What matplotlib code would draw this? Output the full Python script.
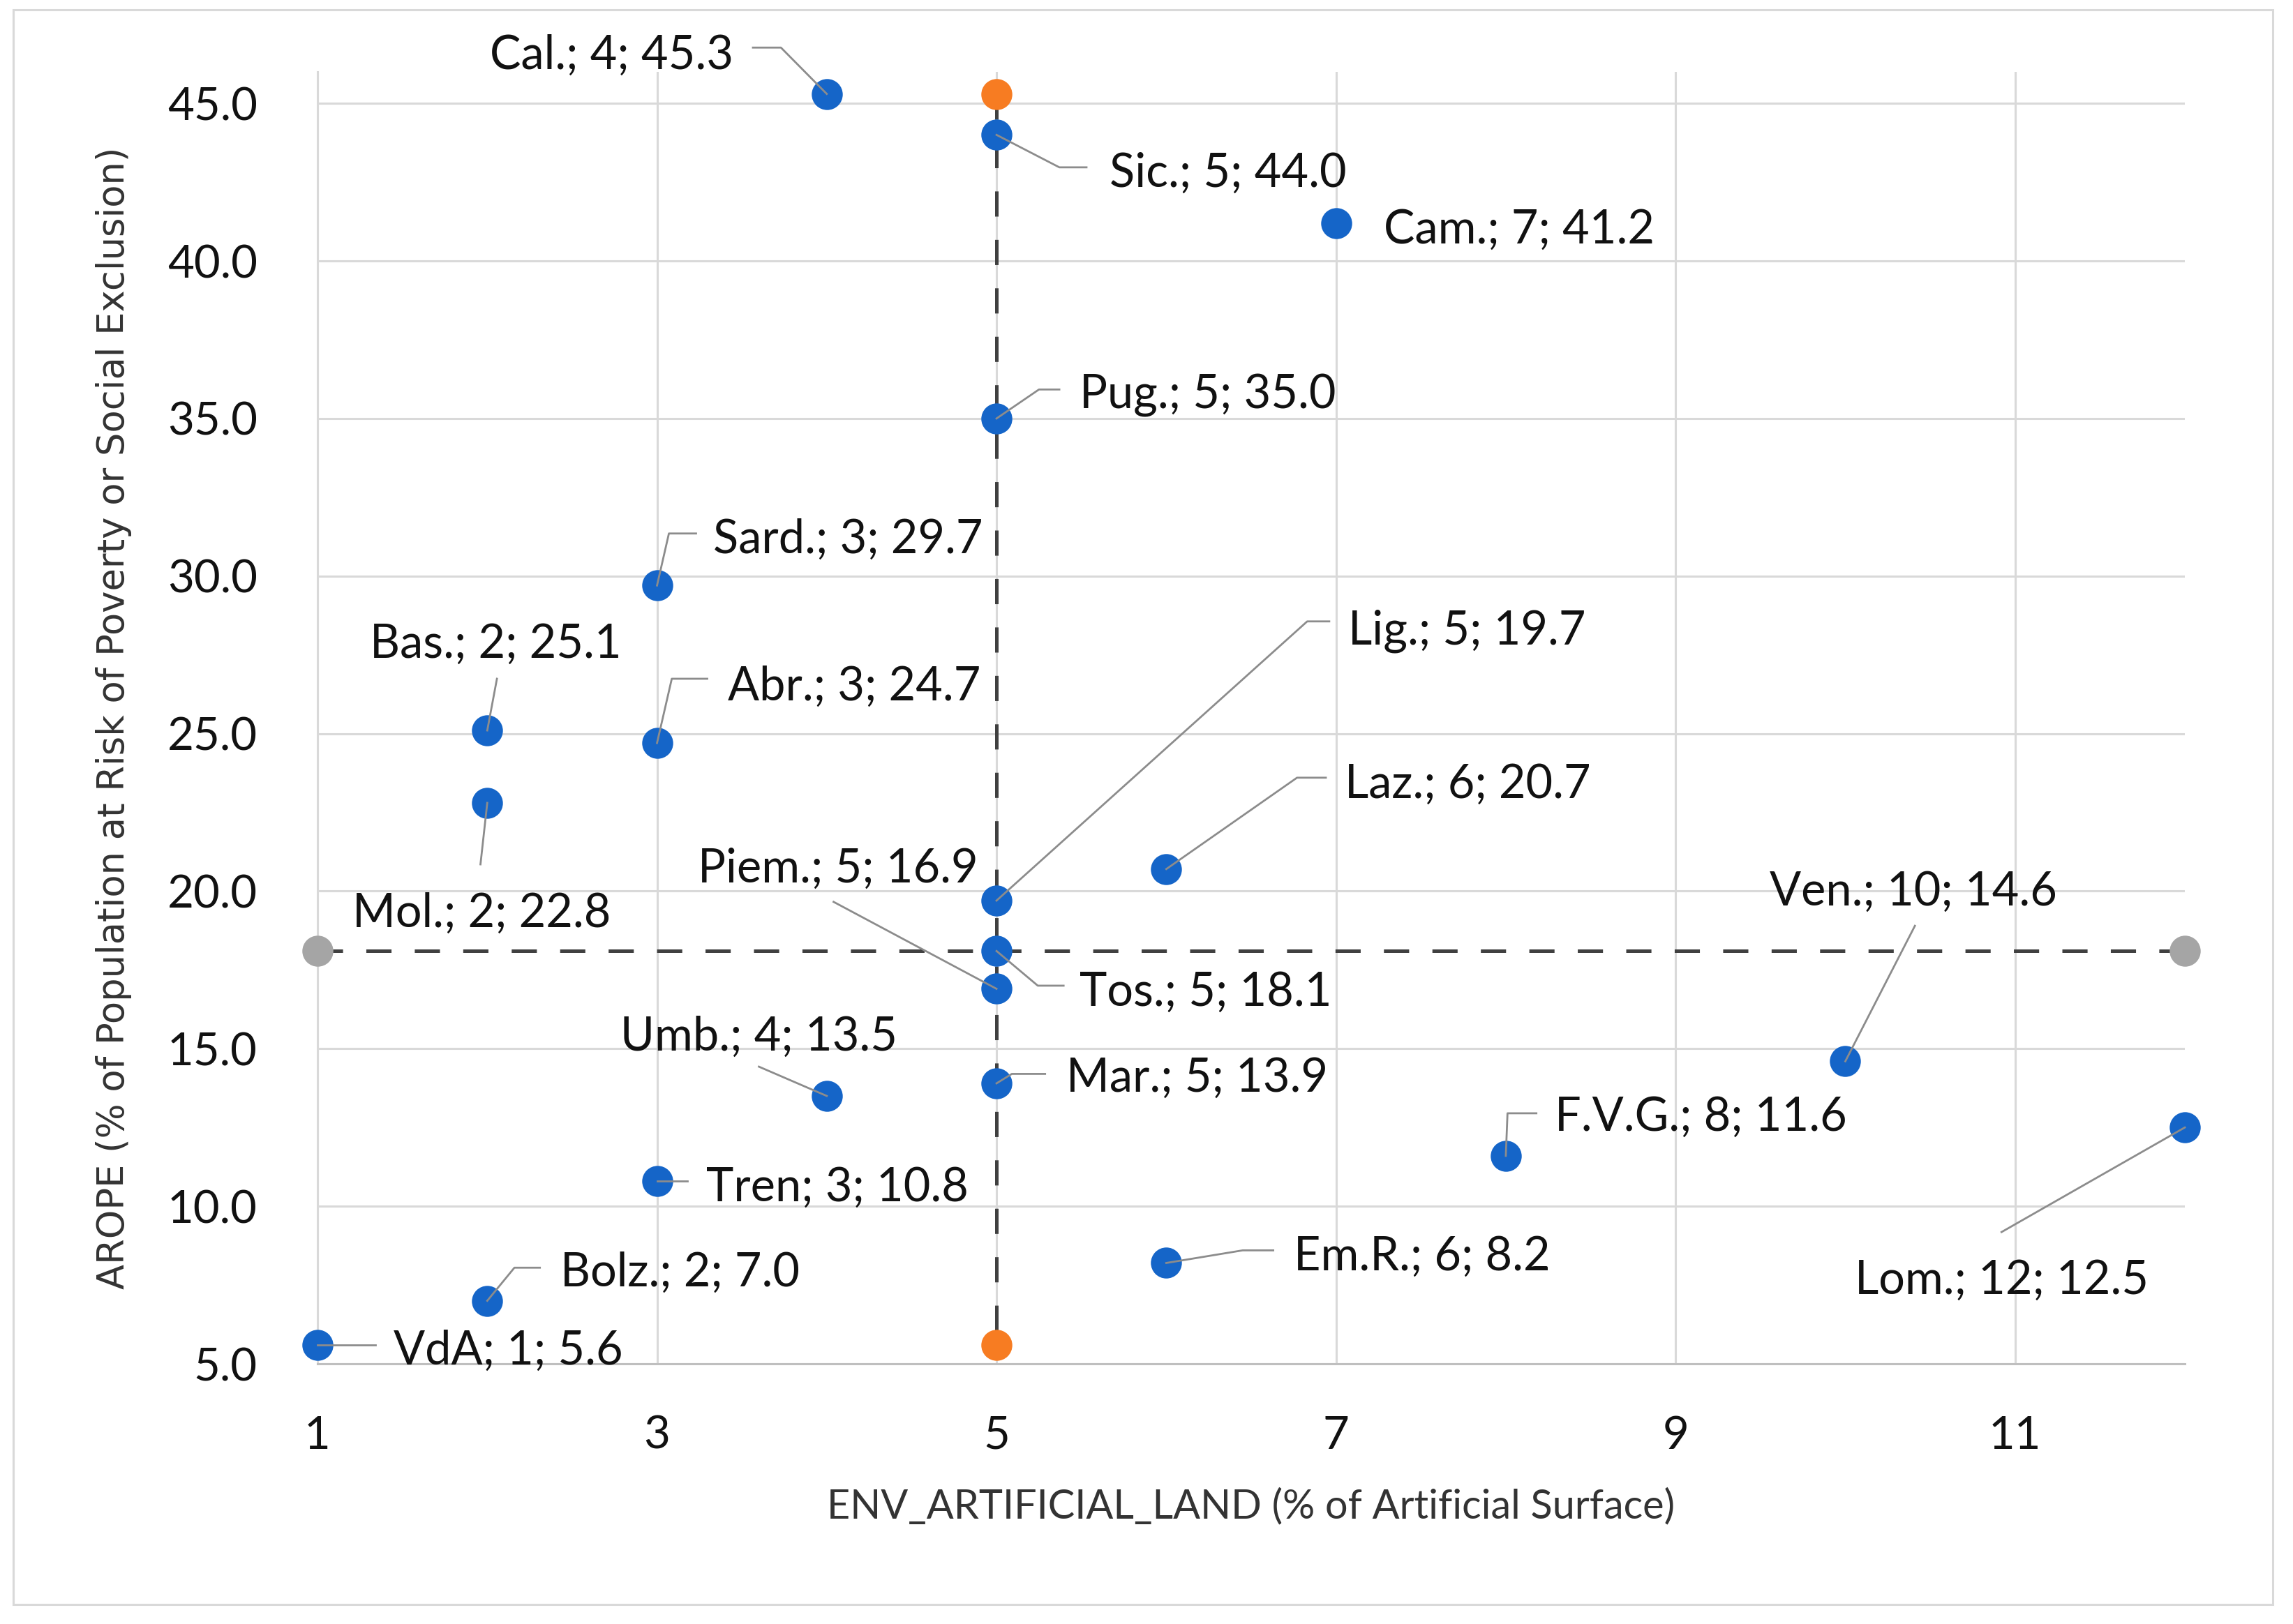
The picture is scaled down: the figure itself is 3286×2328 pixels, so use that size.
import matplotlib
matplotlib.use('Agg')
import matplotlib.pyplot as plt
from matplotlib.patches import Rectangle
from matplotlib.ticker import FormatStrFormatter

# ---------------- data ----------------
regions = ["VdA", "Bolz.", "Tren", "Umb.", "Mar.", "Piem.", "Tos.", "Lig.", "Pug.",
           "Sic.", "Cal.", "Cam.", "Sard.", "Abr.", "Bas.", "Mol.", "Laz.", "Em.R.",
           "F.V.G.", "Ven.", "Lom."]
artificial_land = [1, 2, 3, 4, 5, 5, 5, 5, 5, 5, 4, 7, 3, 3, 2, 2, 6, 6, 8, 10, 12]
arope = [5.6, 7.0, 10.8, 13.5, 13.9, 16.9, 18.1, 19.7, 35.0, 44.0, 45.3, 41.2, 29.7,
         24.7, 25.1, 22.8, 20.7, 8.2, 11.6, 14.6, 12.5]

# median reference lines (horizontal: median AROPE, vertical: median land)
hmed_x = [1, 12]
hmed_y = [18.1, 18.1]
vmed_x = [5, 5]
vmed_y = [45.3, 5.6]

x_ticks = [1, 3, 5, 7, 9, 11]
y_ticks = [5, 10, 15, 20, 25, 30, 35, 40, 45]

x_title = "ENV_ARTIFICIAL_LAND (% of Artificial Surface)"
y_title = "AROPE (% of Population at Risk of Poverty or Social Exclusion)"

# ---------------- label layout (text anchor + leader elbows, data coords) -------------
layout = {
    "Cal.":   (3.45, 46.64, "right",  [(3.73, 46.77), (3.565, 46.77)]),
    "Sic.":   (5.665, 42.9, "left",   [(5.37, 42.97), (5.53, 42.97)]),
    "Cam.":   (7.28, 41.09, "left",   []),
    "Pug.":   (5.49, 35.84, "left",   [(5.25, 35.92), (5.37, 35.92)]),
    "Sard.":  (3.33, 31.26, "left",   [(3.07, 31.35), (3.23, 31.35)]),
    "Bas.":   (2.05, 27.96, "center", [(2.057, 26.74)]),
    "Abr.":   (3.417, 26.6, "left",   [(3.087, 26.74), (3.296, 26.74)]),
    "Mol.":   (1.966, 19.41, "center", [(1.96, 20.85)]),
    "Lig.":   (7.07, 28.38, "left",   [(6.83, 28.56), (6.96, 28.56)]),
    "Laz.":   (7.05, 23.51, "left",   [(6.77, 23.6), (6.94, 23.6)]),
    "Piem.":  (4.89, 20.83, "right",  [(4.04, 19.66)]),
    "Tos.":   (5.49, 16.91, "left",   [(5.243, 17.0), (5.395, 17.0)]),
    "Umb.":   (3.60, 15.49, "center", [(3.60, 14.43)]),
    "Mar.":   (5.41, 14.17, "left",   [(5.09, 14.2), (5.286, 14.2)]),
    "Tren":   (3.29, 10.71, "left",   [(3.18, 10.8)]),
    "Bolz.":  (2.43, 8.01, "left",    [(2.16, 8.05), (2.31, 8.05)]),
    "VdA":    (1.447, 5.53, "left",   [(1.34, 5.6)]),
    "Em.R.":  (6.75, 8.52, "left",    [(6.45, 8.6), (6.63, 8.6)]),
    "F.V.G.": (8.29, 12.93, "left",   [(8.01, 12.95), (8.18, 12.95)]),
    "Ven.":   (10.40, 20.08, "center", [(10.41, 18.9)]),
    "Lom.":   (10.92, 7.77, "center", [(10.92, 9.18)]),
}
text_dy = -0.12  # visual centring correction for the label font

# ---------------- figure ----------------
plt.rcParams['font.family'] = ['Lato', 'DejaVu Sans']
plt.rcParams['lines.scale_dashes'] = False

W, H = 3286, 2328
fig = plt.figure(figsize=(W / 100, H / 100), dpi=100)
fig.patch.set_facecolor('white')
ax = fig.add_axes([455 / W, 1 - 1955 / H, (3131 - 455) / W, (1955 - 103) / H])

ax.set_xlim(1, 12)
ax.set_ylim(5, 46)
ax.set_xticks(x_ticks)
ax.set_yticks(y_ticks)
ax.yaxis.set_major_formatter(FormatStrFormatter('%.1f'))
ax.grid(True, color='#d9d9d9', linewidth=2.2)
ax.set_axisbelow(True)
for s in ['top', 'right']:
    ax.spines[s].set_visible(False)
ax.spines['left'].set_color('#d9d9d9')
ax.spines['left'].set_linewidth(2.2)
ax.spines['bottom'].set_color('#bfbfbf')
ax.spines['bottom'].set_linewidth(2.2)
ax.tick_params(axis='both', length=0, labelsize=47, colors='#111111')
ax.tick_params(axis='x', pad=53)
ax.tick_params(axis='y', pad=62)

# median dashed lines
ax.plot(hmed_x, hmed_y, color='#404040', lw=3.6, linestyle=(0, (26, 24)), zorder=2,
        clip_on=False)
ax.plot(vmed_x, vmed_y, color='#404040', lw=3.6, linestyle=(0, (26, 24)), zorder=2,
        clip_on=False)
ax.scatter(hmed_x, hmed_y, s=32 ** 2, color='#a5a5a5', zorder=3, clip_on=False,
           linewidths=0)
ax.scatter(vmed_x, vmed_y, s=32 ** 2, color='#f77c22', zorder=3, clip_on=False,
           linewidths=0)

# data points
ax.scatter(artificial_land, arope, s=32 ** 2, color='#1565c8', zorder=4, clip_on=False,
           linewidths=0)

# labels + leader lines
for name, xv, yv in zip(regions, artificial_land, arope):
    tx, ty, ha, elbows = layout[name]
    if elbows:
        px = [xv] + [e[0] for e in elbows]
        py = [yv] + [e[1] for e in elbows]
        ax.plot(px, py, color='#8c8c8c', lw=2.0, zorder=5, clip_on=False)
    ax.text(tx, ty + text_dy, f"{name}; {xv}; {yv:.1f}", ha=ha, va='center',
            fontsize=48, color='#111111', zorder=6)

# axis titles
ax.set_xlabel(x_title, fontsize=41.5, color='#333333', va='center')
ax.xaxis.set_label_coords(0.5, (1955 - 2160) / (1955 - 103))
ax.set_ylabel(y_title, fontsize=38, color='#333333', va='center',
              family=['DejaVu Sans'])
ax.yaxis.set_label_coords((163 - 455) / (3131 - 455), (1955 - 1029) / (1955 - 103))

# outer chart border
fig.add_artist(Rectangle((19 / W, 1 - 2300 / H), (3257 - 19) / W, (2300 - 14) / H,
                         transform=fig.transFigure, fill=False, edgecolor='#d9d9d9',
                         lw=2.2))

fig.savefig('out.png', dpi=100)
